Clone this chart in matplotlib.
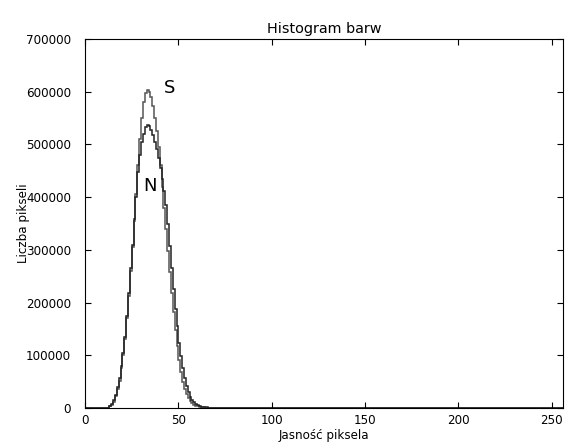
import matplotlib
matplotlib.use('Agg')
import matplotlib.pyplot as plt
import numpy as np

# Data: pixel counts per brightness level (bins 0..255)
start_bin = 13
counts_s = [3000, 6000, 12000, 22000, 36000, 52000, 75000, 100000, 130000, 170000,
            212000, 260000, 305000, 355000, 405000, 460000, 510000, 550000, 580000, 597000,
            603000, 600000, 590000, 572000, 550000, 525000, 495000, 460000, 420000, 380000,
            340000, 298000, 258000, 218000, 182000, 148000, 118000, 91000, 68000, 50000,
            36000, 26000, 18000, 12500, 8800, 6200, 4300, 3000, 2100, 1500,
            1000, 700, 500, 350, 250, 150, 100, 60]
counts_n = [4000, 8000, 15000, 25000, 40000, 57000, 80000, 105000, 135000, 175000,
            218000, 265000, 310000, 358000, 400000, 448000, 480000, 505000, 520000, 532000,
            537000, 535000, 528000, 518000, 505000, 492000, 475000, 455000, 435000, 412000,
            385000, 348000, 308000, 266000, 225000, 188000, 155000, 124000, 98000, 75000,
            56000, 41000, 30000, 21500, 15500, 11000, 7800, 5400, 3800, 2700,
            1900, 1300, 900, 650, 450, 300, 200, 120]

edges = np.arange(257)
hist_s = np.zeros(256)
hist_n = np.zeros(256)
hist_s[start_bin:start_bin + len(counts_s)] = counts_s
hist_n[start_bin:start_bin + len(counts_n)] = counts_n

fig = plt.figure(figsize=(5.67, 4.42), dpi=100)
ax = fig.add_axes([0.150, 0.077, 0.843, 0.835])

ax.stairs(hist_s, edges, color='#555555', linewidth=1.1)
ax.stairs(hist_n, edges, color='#222222', linewidth=1.1)

ax.text(45.5, 607000, 'S', fontsize=13, ha='center', va='center')
ax.text(35, 421000, 'N', fontsize=13, ha='center', va='center')

ax.set_xlim(0, 256)
ax.set_ylim(0, 700000)
ax.set_xticks(np.arange(0, 251, 50))
ax.set_yticks(np.arange(0, 700001, 100000))
ax.tick_params(direction='in', top=True, right=True, length=4, labelsize=8.6)
ax.tick_params(axis='x', pad=4)
ax.tick_params(axis='y', pad=10)

ax.set_title('Histogram barw', fontsize=10.4, pad=4)
ax.set_xlabel('Jasność piksela', fontsize=8.6, labelpad=2)
ax.set_ylabel('Liczba pikseli', fontsize=8.6, labelpad=-3)

fig.savefig('out.png', dpi=100, facecolor='white')
